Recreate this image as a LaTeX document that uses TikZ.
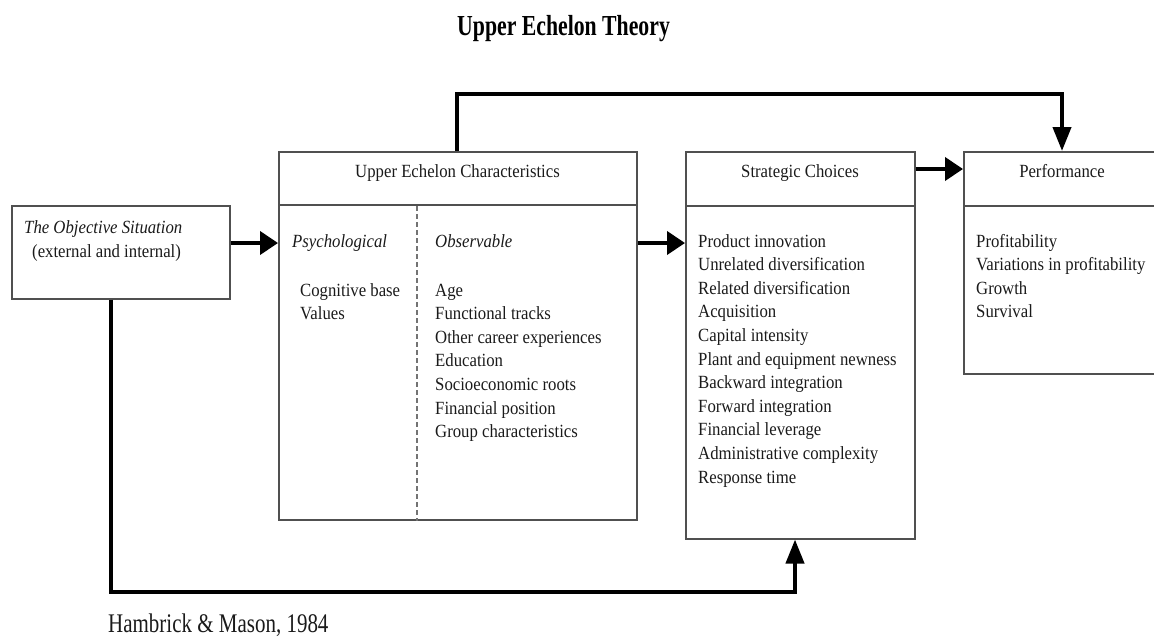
\documentclass[tikz,border=0pt]{standalone}
\usepackage{fontspec}
\setmainfont{Liberation Serif}[FakeStretch=0.9]
\newfontfamily\titlefont{Liberation Serif}[FakeStretch=0.75]
\newfontfamily\citefont{Liberation Serif}[FakeStretch=0.78]
\usetikzlibrary{arrows.meta}
\definecolor{boxgray}{HTML}{505050}
\definecolor{txt}{HTML}{1A1A1A}
\newcommand{\linelist}[1]{\begin{tabular}[t]{@{}l@{}}#1\end{tabular}}
\tikzset{
  box/.style={draw=boxgray, line width=1.5pt, inner sep=0pt, anchor=north west},
  divider/.style={draw=boxgray, line width=1.5pt},
  dashdiv/.style={draw=boxgray!80, line width=1.3pt, dash pattern=on 5pt off 3pt},
  lbl/.style={inner sep=0pt, anchor=base west, text=txt, font=\fontsize{18.6}{23.5}\selectfont},
  hdr/.style={inner sep=0pt, anchor=base, text=txt, font=\fontsize{18.6}{23.5}\selectfont},
  lst/.style={inner sep=0pt, anchor=base west, text=txt, font=\fontsize{18.6}{23.6}\selectfont},
  harrow/.style={line width=4pt, -{Triangle[length=18pt, width=23pt]}},
  varrow/.style={line width=4pt, line join=miter, -{Triangle[length=24pt, width=18pt]}},
}
\begin{document}
\begin{tikzpicture}[x=1pt, y=-1pt]
\useasboundingbox (0,0) rectangle (1154,638);

% title
\node[inner sep=0pt, anchor=base west, font=\titlefont\bfseries\fontsize{29}{32}\selectfont] (title) at (457,35) {Upper Echelon Theory};

% boxes
\node[box, minimum width=218pt, minimum height=93pt] (obj) at (11,205) {};
\node[box, minimum width=358pt, minimum height=368pt] (uec) at (278,151) {};
\node[box, minimum width=229pt, minimum height=387pt] (sc) at (685,151) {};
\node[box, minimum width=200pt, minimum height=222pt] (perf) at (963,151) {};

% header lines
\draw[divider] (uec.west |- 0,205) -- (uec.east |- 0,205);
\draw[divider] (sc.west |- 0,206) -- (sc.east |- 0,206);
\draw[divider] (perf.west |- 0,206) -- (perf.east |- 0,206);
\draw[dashdiv] (417,206) -- (uec.south -| 417,0);

% objective situation
\node[lbl, font=\itshape\fontsize{18.6}{23.5}\selectfont] (objt) at (24,233) {The Objective Situation};
\node[lbl] (objs) at (32,257) {(external and internal)};

% upper echelon
\node[hdr] (uech) at (457.5,177) {Upper Echelon Characteristics};
\node[lbl, font=\itshape\fontsize{18.6}{23.5}\selectfont] (psy) at (292,247) {Psychological};
\node[lst] (psyl) at (300,296) {\linelist{Cognitive base\\Values}};
\node[lbl, font=\itshape\fontsize{18.6}{23.5}\selectfont] (obs) at (435,247) {Observable};
\node[lst] (obsl) at (435,296) {\linelist{Age\\Functional tracks\\Other career experiences\\Education\\Socioeconomic roots\\Financial position\\Group characteristics}};

% strategic choices
\node[hdr] (sch) at (800,177) {Strategic Choices};
\node[lst] (scl) at (698,247) {\linelist{Product innovation\\Unrelated diversification\\Related diversification\\Acquisition\\Capital intensity\\Plant and equipment newness\\Backward integration\\Forward integration\\Financial leverage\\Administrative complexity\\Response time}};

% performance
\node[hdr] (perfh) at (1062,177) {Performance};
\node[lst] (perfl) at (976,247) {\linelist{Profitability\\Variations in profitability\\Growth\\Survival}};

% citation
\node[inner sep=0pt, anchor=base west, text=txt, font=\citefont\fontsize{26.9}{30}\selectfont] (cite) at (108,632) {Hambrick \& Mason, 1984};

% connectors
\draw[harrow] (obj.east |- 0,243) -- (uec.west |- 0,243);
\draw[harrow] (uec.east |- 0,243) -- (sc.west |- 0,243);
\draw[harrow] (sc.east |- 0,169) -- (perf.west |- 0,169);
\coordinate (tl) at (457,94);
\coordinate (tr) at (1062,94);
\draw[varrow] (uec.north -| tl) -- (tl) -- (tr) -- (perf.north -| tr);
\coordinate (bl) at (111,592);
\coordinate (br) at (795,592);
\draw[varrow] (obj.south -| bl) -- (bl) -- (br) -- (sc.south -| br);
\end{tikzpicture}
\end{document}
